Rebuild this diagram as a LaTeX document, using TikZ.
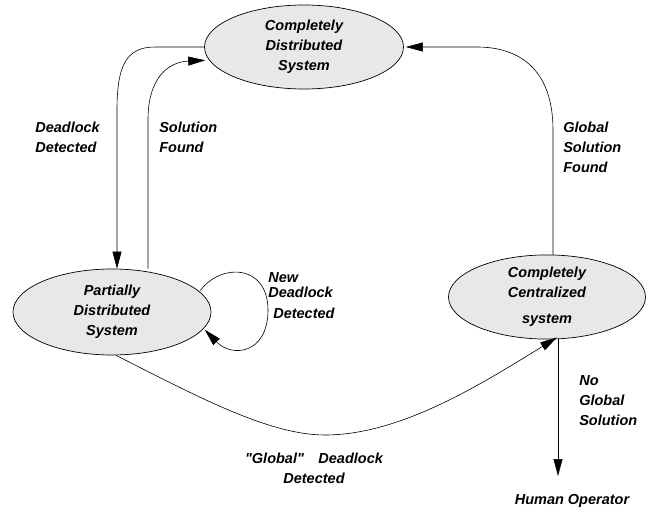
\documentclass[tikz,border=0pt]{standalone}
\usepackage{fontspec}
\setmainfont{Liberation Sans}[Ligatures=TeXOff]
\usetikzlibrary{arrows.meta,shapes.geometric}

\definecolor{stategray}{HTML}{E8E8E8}

\begin{document}
\begin{tikzpicture}[x=1pt, y=-1pt,
	every node/.style={font=\fontsize{14.5}{20}\selectfont\bfseries\itshape},
	sys/.style={ellipse, draw, line width=0.7pt, fill=stategray, align=center, inner sep=0pt},
	lbl/.style={align=left, inner sep=0pt, anchor=west},
	every path/.style={line width=0.6pt},
	>={Triangle[length=17pt, width=9pt]}]

	\useasboundingbox (0,0) rectangle (654,513);

	\node[sys, minimum width=199pt, minimum height=84pt] (cds) at (304,47) {Completely\\Distributed\\System};
	\node[sys, minimum width=198pt, minimum height=86pt] (pds) at (112,312) {Partially\\Distributed\\System};
	\node[sys, minimum width=197pt, minimum height=82pt] (ccs) at (547,297) {Completely\\Centralized\\[6pt]system};
	\node (op) at (572,501) {Human Operator};
	\coordinate (opin) at (558,476);

	% up and down between the distributed states
	\draw[->] (cds.west) -- (155,47) .. controls (126,47) and (117,66) .. (117,110) -- ([xshift=5pt]pds.north);
	\draw[->] ([xshift=36pt]pds.north) -- (148,120) .. controls (148,78) and (168,62) .. ([xshift=-4pt]cds.188);
	\draw[->] ([xshift=6pt]ccs.north) -- (553,130) .. controls (553,70) and (520,47) .. (477,47) -- ([xshift=2pt]cds.east);

	% new deadlock
	\draw[->] ([xshift=2pt]pds.14) .. controls (222,262) and (268,265) .. (268,310) .. controls (268,354) and (232,358) .. ([xshift=2pt]pds.-11);

	% global deadlock
	\draw[->] ([xshift=4pt]pds.south) .. controls (200,398) and (270,435) .. (325,435) .. controls (400,435) and (480,385) .. ([xshift=10pt, yshift=2pt]ccs.south);
	\draw[->] ([xshift=11pt]ccs.south) -- (opin);

	\node[lbl] at (35,137) {Deadlock\\Detected};
	\node[lbl] at (159,137) {Solution\\Found};
	\node[lbl] at (563,147) {Global\\Solution\\Found};
	\node[lbl] at (268,296) {New\\[-5pt]Deadlock\\[1pt]\hspace*{5pt}Detected};
	\node[lbl] at (579,401) {No\\Global\\Solution};
	\node[align=center, inner sep=0pt] at (314,468) {"Global"\quad Deadlock\\Detected};
\end{tikzpicture}
\end{document}
